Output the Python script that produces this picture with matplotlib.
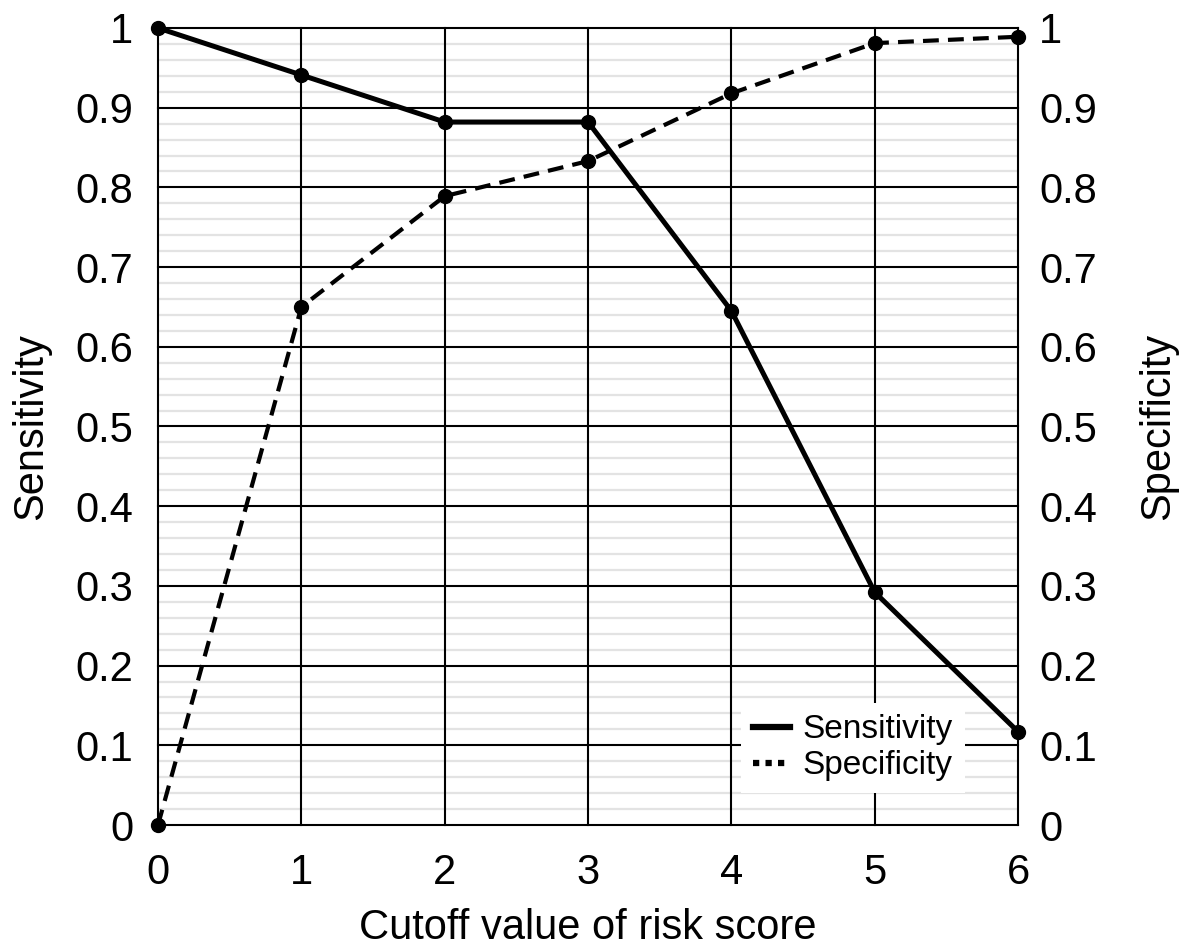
import matplotlib
matplotlib.use("Agg")
import matplotlib.pyplot as plt
from matplotlib.lines import Line2D
import numpy as np

plt.rcParams['font.family'] = ['Liberation Sans', 'DejaVu Sans']

cutoffs = [0, 1, 2, 3, 4, 5, 6]
sensitivity = [1.0, 0.941, 0.882, 0.882, 0.645, 0.292, 0.117]
specificity = [0.0, 0.650, 0.789, 0.833, 0.918, 0.981, 0.989]
y_ticks = [0, 0.1, 0.2, 0.3, 0.4, 0.5, 0.6, 0.7, 0.8, 0.9, 1.0]
y_tick_labels = ["0", "0.1", "0.2", "0.3", "0.4", "0.5", "0.6", "0.7", "0.8", "0.9", "1"]
x_tick_labels = ["0", "1", "2", "3", "4", "5", "6"]

fig = plt.figure(figsize=(11.88, 9.52), dpi=100)
ax = fig.add_axes([0.133, 0.1334, 0.724, 0.8372])

ax.set_xlim(0, 6)
ax.set_ylim(0, 1)
ax.set_yticks(np.arange(0, 1.0001, 0.02), minor=True)
ax.set_yticks(y_ticks)
ax.set_yticklabels(y_tick_labels)
ax.set_xticks(cutoffs)
ax.set_xticklabels(x_tick_labels)
ax.grid(which='minor', axis='y', color='#e3e3e3', linewidth=1.6, zorder=0)
ax.set_axisbelow(True)
for yv in y_ticks:
    ax.axhline(yv, color='black', linewidth=1.5, zorder=1, clip_on=False)
for xv in cutoffs:
    ax.axvline(xv, color='black', linewidth=1.5, zorder=1, clip_on=False)
for s in ax.spines.values():
    s.set_visible(False)
ax.tick_params(which='both', length=0, labelsize=30, colors='black')
ax.tick_params(axis='y', pad=18)
ax.tick_params(axis='x', pad=20)

ax.plot(cutoffs, sensitivity, color='black', linewidth=3.6, marker='o',
        markersize=10, clip_on=False, zorder=5)
ax.plot(cutoffs, specificity, color='black', linewidth=3.0, linestyle=(0, (3.8, 2.2)),
        marker='o', markersize=10, clip_on=False, zorder=5)

ax.set_xlabel("Cutoff value of risk score", fontsize=30, labelpad=11)
ax.set_ylabel("Sensitivity", fontsize=30, labelpad=17)

ax2 = ax.twinx()
ax2.set_ylim(0, 1)
ax2.set_yticks(y_ticks)
ax2.set_yticklabels(y_tick_labels)
for s in ax2.spines.values():
    s.set_visible(False)
ax2.tick_params(length=0, labelsize=30, pad=15)
ax2.set_ylabel("Specificity", fontsize=30, labelpad=30)

handles = [Line2D([], [], color='black', linewidth=4.5),
           Line2D([], [], color='black', linewidth=4.5, linestyle=(0, (1, 1)))]
leg = ax2.legend(handles, ["Sensitivity", "Specificity"], loc='lower right',
                 bbox_to_anchor=(0.938, 0.040), borderaxespad=0, fontsize=24,
                 frameon=True, fancybox=False, handlelength=1.1, handletextpad=0.4,
                 labelspacing=0.15, borderpad=0.35)
leg.get_frame().set_facecolor('white')
leg.get_frame().set_edgecolor('none')
leg.get_frame().set_alpha(1)

fig.savefig("out.png", dpi=100)
